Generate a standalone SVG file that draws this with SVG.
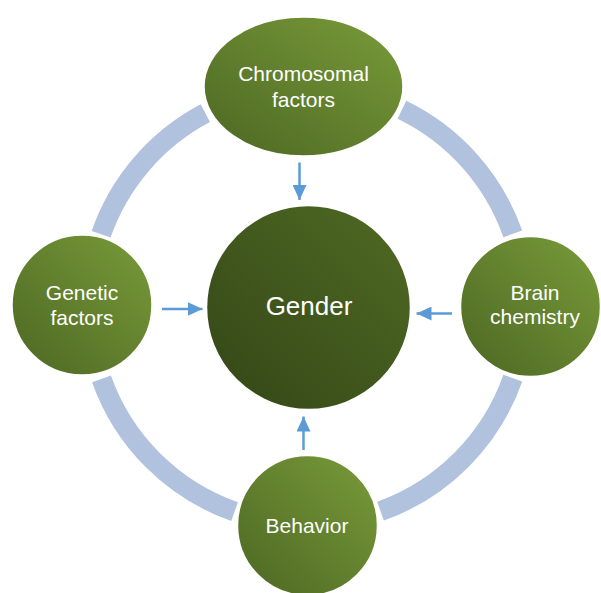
<svg xmlns="http://www.w3.org/2000/svg" width="601" height="593" viewBox="0 0 601 593">
  <defs>
    <linearGradient id="g-node" x1="1" y1="0" x2="0" y2="1">
      <stop offset="0" stop-color="#7a9b3a"/>
      <stop offset="1" stop-color="#4b6722"/>
    </linearGradient>
    <linearGradient id="g-center" x1="1" y1="0" x2="0" y2="1">
      <stop offset="0" stop-color="#506a23"/>
      <stop offset="1" stop-color="#334617"/>
    </linearGradient>
    <marker id="ah" markerUnits="userSpaceOnUse" markerWidth="15" markerHeight="14" refX="15" refY="7" orient="auto">
      <path d="M0,0 L15,7 L0,14 z" fill="#5b9bd5"/>
    </marker>
    <style>
      .ring { fill: none; stroke: #b0c2de; stroke-width: 20; stroke-linecap: butt; }
      .node { fill: url(#g-node); stroke: #ffffff; stroke-width: 2.5; }
      .center { fill: url(#g-center); stroke: #ffffff; stroke-width: 2.5; }
      .lbl { font-family: "Liberation Sans", Arial, sans-serif; font-size: 21px; fill: #ffffff; text-anchor: middle; }
      .big { font-size: 26px; }
      .arr { stroke: #5b9bd5; stroke-width: 2.5; fill: none; marker-end: url(#ah); }
    </style>
  </defs>
  <rect width="601" height="593" fill="#ffffff"/>
  <g id="connectors">
    <path class="ring" d="M101.1,234.3 A218,218 0 0 1 205.3,113.2"/>
    <path class="ring" d="M401.9,109.7 A218,218 0 0 1 512.8,233.9"/>
    <path class="ring" d="M512.8,378.1 A218,218 0 0 1 380.5,511.2"/>
    <path class="ring" d="M234.6,511.6 A218,218 0 0 1 101.5,378.8"/>
    <line class="arr" x1="299.5" y1="162.5" x2="299.5" y2="200"/>
    <line class="arr" x1="162" y1="309" x2="202.5" y2="309"/>
    <line class="arr" x1="452" y1="313.5" x2="416.5" y2="313.5"/>
    <line class="arr" x1="303.5" y1="450" x2="303.5" y2="416.5"/>
  </g>
  <g id="node-gender">
    <circle class="center" cx="308.5" cy="307.5" r="102.5"/>
    <text class="lbl big" x="309" y="315">Gender</text>
  </g>
  <g id="node-chromosomal">
    <ellipse class="node" cx="303.5" cy="86.5" rx="100" ry="70"/>
    <text class="lbl" x="303.5" y="81">Chromosomal</text>
    <text class="lbl" x="303.5" y="107">factors</text>
  </g>
  <g id="node-genetic">
    <circle class="node" cx="82" cy="305" r="70.5"/>
    <text class="lbl" x="82" y="299.5">Genetic</text>
    <text class="lbl" x="82" y="325">factors</text>
  </g>
  <g id="node-brain">
    <circle class="node" cx="530.5" cy="306.5" r="70.5"/>
    <text class="lbl" x="535" y="300">Brain</text>
    <text class="lbl" x="535" y="324">chemistry</text>
  </g>
  <g id="node-behavior">
    <circle class="node" cx="307.5" cy="525.5" r="70.5"/>
    <text class="lbl" x="307" y="533">Behavior</text>
  </g>
</svg>
